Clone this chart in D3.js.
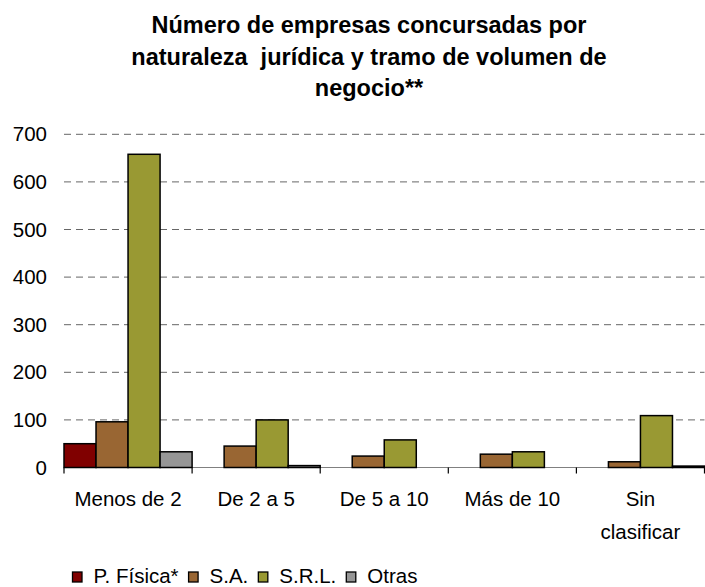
<!DOCTYPE html>
<html>
<head>
<meta charset="utf-8">
<script src="https://cdn.jsdelivr.net/npm/d3@7"></script>
<style>
  body { margin: 0; background: #fff; }
  text { font-family: "Liberation Sans", Arial, sans-serif; fill: #000; }
</style>
</head>
<body>
<script>
const categories = [['Menos de 2'], ['De 2 a 5'], ['De 5 a 10'], ['Más de 10'], ['Sin', 'clasificar']]
const seriesNames = ['P. Física*', 'S.A.', 'S.R.L.', 'Otras']
const pFisica = [50, 0, 0, 0, 0]
const sa = [96, 45, 24, 28, 12]
const srl = [658, 100, 58, 33, 109]
const otras = [33, 4, 0, 0, 3]
const yTicks = [0, 100, 200, 300, 400, 500, 600, 700]
const titleLines = ['Número de empresas concursadas por', 'naturaleza  jurídica y tramo de volumen de', 'negocio**']

const colors = ['#800000', '#996633', '#999933', '#969696']
const allSeries = [pFisica, sa, srl, otras]

let width = 705
let height = 587
let plotLeft = 64, plotRight = 704.5, plotTop = 134.3, plotBottom = 467.5
let fontSize = '20.5px'

let svg = d3.select('body').append('svg').attr('width', width).attr('height', height)

// title
svg.append('g').selectAll('text')
   .data(titleLines)
   .enter()
   .append('text')
   .attr('x', 369)
   .attr('y', (d, i) => 33 + i * 31.5)
   .attr('text-anchor', 'middle')
   .style('font-weight', 'bold')
   .style('font-size', '23.5px')
   .style('white-space', 'pre')
   .text(d => d)

let xScale = d3.scaleBand()
               .domain(d3.range(categories.length))
               .range([plotLeft, plotRight])
let inner = d3.scaleBand()
              .domain(d3.range(seriesNames.length))
              .range([0, xScale.bandwidth()])
let yScale = d3.scaleLinear().domain([0, 700]).range([plotBottom, plotTop])

// gridlines
svg.append('g').selectAll('line')
   .data(yTicks.filter(t => t > 0))
   .enter()
   .append('line')
   .attr('x1', plotLeft).attr('x2', plotRight)
   .attr('y1', d => yScale(d)).attr('y2', d => yScale(d))
   .attr('stroke', '#666')
   .attr('stroke-width', 1)
   .attr('stroke-dasharray', '7,5')

// y labels
let yAxis = d3.axisLeft(yScale).tickValues(yTicks).tickSize(0).tickPadding(17)
let yg = svg.append('g').attr('transform', 'translate(' + plotLeft + ',0)').call(yAxis)
yg.select('.domain').remove()
yg.selectAll('text')
  .style('font-size', fontSize)
  .style('font-family', '"Liberation Sans", Arial, sans-serif')
  .attr('fill', '#000')

// x axis line
svg.append('line')
   .attr('x1', plotLeft).attr('x2', plotRight)
   .attr('y1', plotBottom).attr('y2', plotBottom)
   .attr('stroke', '#808080').attr('stroke-width', 1.2)

// bars
allSeries.forEach((vals, s) => {
  let pts = vals.map((v, i) => ({ i: i, v: v })).filter(d => d.v > 0)
  svg.append('g').selectAll('rect')
     .data(pts)
     .enter()
     .append('rect')
     .attr('x', d => xScale(d.i) + inner(s))
     .attr('y', d => yScale(d.v))
     .attr('width', inner.bandwidth())
     .attr('height', d => plotBottom - yScale(d.v))
     .attr('fill', colors[s])
     .attr('stroke', '#000')
     .attr('stroke-width', 1.5)
})

// x ticks
svg.append('g').selectAll('line')
   .data(d3.range(categories.length + 1))
   .enter()
   .append('line')
   .attr('x1', i => i < categories.length ? xScale(i) : plotRight)
   .attr('x2', i => i < categories.length ? xScale(i) : plotRight)
   .attr('y1', plotBottom).attr('y2', plotBottom + 6)
   .attr('stroke', '#000').attr('stroke-width', 1.2)

// category labels
let cl = svg.append('g').selectAll('text')
   .data(categories)
   .enter()
   .append('text')
   .attr('x', (d, i) => xScale(i) + xScale.bandwidth() / 2)
   .attr('y', 506)
   .attr('text-anchor', 'middle')
   .style('font-size', fontSize)
cl.selectAll('tspan')
  .data(d => d)
  .enter()
  .append('tspan')
  .attr('x', function () { return d3.select(this.parentNode).attr('x') })
  .attr('dy', (d, i) => i === 0 ? 0 : 33)
  .text(d => d)

// legend
let lx = 72.5
let legend = svg.append('g')
seriesNames.forEach((name, s) => {
  legend.append('rect')
        .attr('x', lx).attr('y', 572)
        .attr('width', 9.5).attr('height', 10)
        .attr('fill', colors[s]).attr('stroke', '#000').attr('stroke-width', 1.3)
  let t = legend.append('text')
                .attr('x', lx + 21).attr('y', 582.5)
                .style('font-size', fontSize)
                .text(name)
  lx = lx + 21 + t.node().getComputedTextLength() + 10
})
</script>
</body>
</html>
